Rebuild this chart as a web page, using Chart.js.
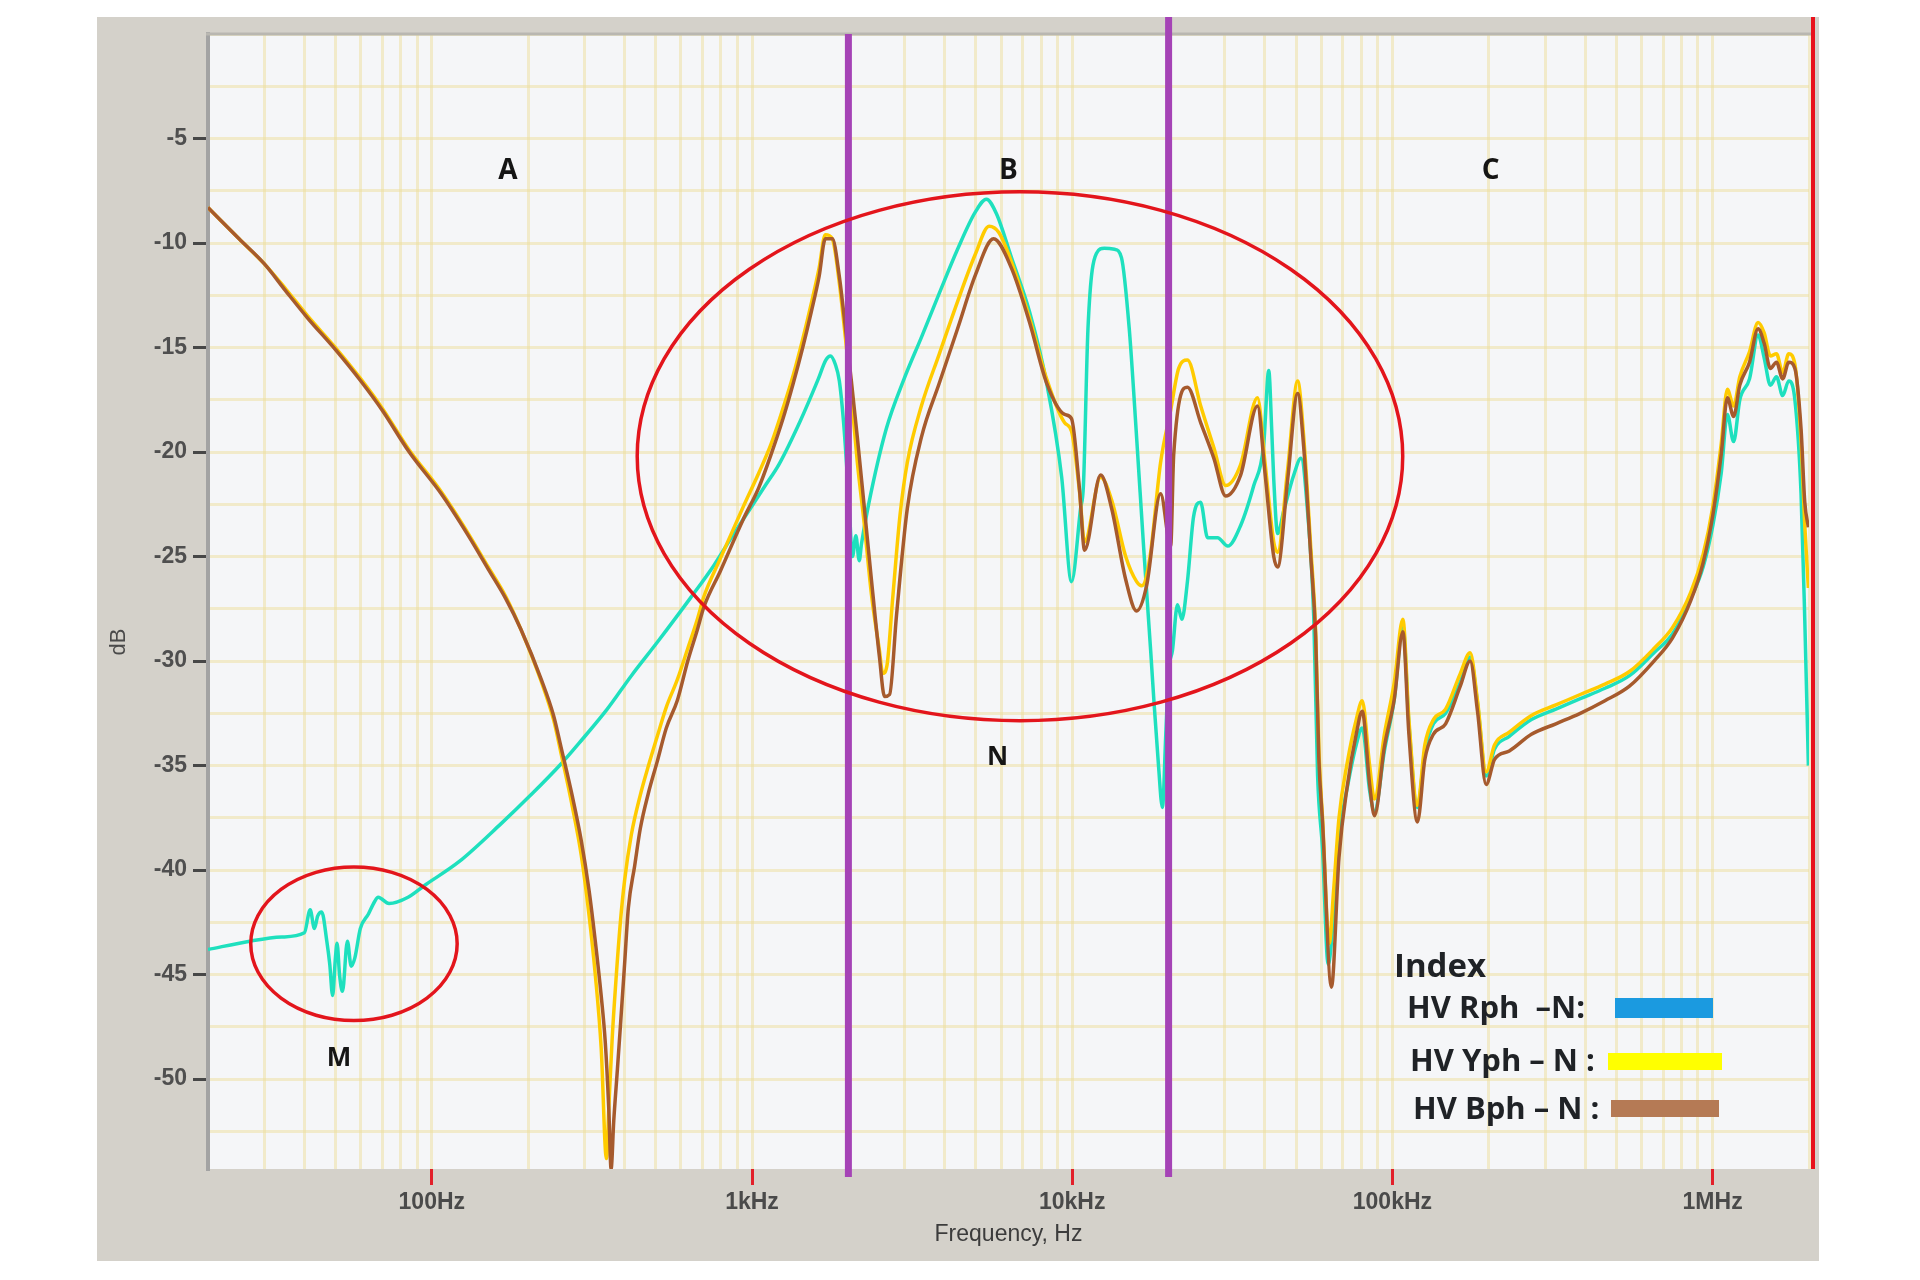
<!DOCTYPE html>
<html>
<head>
<meta charset="utf-8">
<script src="https://cdn.jsdelivr.net/npm/chart.js@4.4.1/dist/chart.umd.min.js"></script>
<style>
html,body{margin:0;padding:0;background:#ffffff;}
canvas{display:block;}
</style>
</head>
<body>
<canvas id="c" width="1920" height="1280"></canvas>
<script>
// ---------------- DATA ----------------
const seriesLabels = ['HV Rph  \u2013N:', 'HV Yph \u2013 N :', 'HV Bph \u2013 N :'];

const rphFreq = [20,27,34,40,41.7,43,44,45.3,47,48,49,50,50.6,51.5,52.6,54.5,56,57.5,59.8,63.4,66.3,68,73.5,84.3,95.6,121.6,164,204,254,293,353,420,506,641,762,870,988,1100,1213,1416,1611,1700,1758,1820,1874,1930,1972,2010,2060,2110,2162,2197,2313,2625,2985,3383,3846,4385,4990,5395,5800,6460,7360,8320,9270,9950,10620,10840,11200,11900,12590,13560,14250,15070,15890,16720,17580,17960,18600,19130,19600,20000,20560,21320,22000,22900,23930,25170,26480,28450,30600,33600,36900,39600,41100,42000,42600,43800,45800,49200,51800,54300,56800,58400,60500,63000,66000,68100,72400,77100,80500,84900,87900,94400,101400,107800,112600,119700,126300,134300,146600,162900,174900,184400,196200,208500,231800,271700,324000,386000,461000,550000,656000,749000,855000,934000,1002000,1064000,1112000,1163000,1216000,1304000,1387000,1449000,1515000,1583000,1655000,1729000,1807000,1889000,1940000,1991000];
const rphDb = [-43.8,-43.4,-43.2,-43.0,-41.9,-42.8,-42.2,-42.0,-43.4,-44.5,-46.0,-44.2,-43.5,-45.0,-45.8,-43.4,-44.6,-44.2,-42.8,-42.1,-41.5,-41.3,-41.6,-41.3,-40.7,-39.6,-37.8,-36.4,-34.9,-33.8,-32.3,-30.7,-29.1,-27.0,-25.4,-24.0,-22.7,-21.6,-20.6,-18.5,-16.5,-15.6,-15.4,-15.8,-16.6,-18.5,-20.5,-22.5,-25.0,-24.0,-25.2,-24.4,-22.5,-18.9,-16.5,-14.5,-12.4,-10.3,-8.5,-7.9,-8.6,-10.7,-13.3,-16.7,-21.2,-26.2,-22.7,-21.6,-14.1,-10.5,-10.25,-10.3,-10.7,-14.1,-19.3,-24.6,-29.5,-31.7,-35.0,-37.0,-33.5,-30.5,-29.5,-27.3,-28.0,-26.2,-23.1,-22.4,-24.1,-24.1,-24.5,-23.5,-21.6,-19.7,-16.1,-19.0,-21.3,-23.9,-22.8,-21.1,-20.3,-22.8,-27.9,-35.5,-39.0,-44.5,-41.5,-38.5,-36.0,-34.0,-33.2,-36.2,-37.2,-34.3,-31.8,-28.3,-33.0,-37.0,-34.3,-33.0,-32.5,-31.0,-29.8,-32.0,-35.5,-34.2,-33.6,-32.8,-32.3,-31.8,-31.3,-30.7,-29.6,-28.7,-27.0,-25.5,-23.5,-21.0,-18.2,-19.5,-17.5,-16.5,-14.4,-15.5,-16.8,-16.4,-17.3,-16.6,-17.5,-22.0,-28.0,-35.0];

const yphFreq = [20,25,30,35,41,50,60,70,85,107,130,150,170,190,220,240,254,275,293,310,324,338,351,358,366,375,388,400,420,448,475,506,540,584,630,675,708,796,940,1050,1148,1250,1346,1440,1531,1620,1694,1782,1870,1972,2040,2133,2244,2360,2500,2560,2640,2750,2900,3055,3380,3846,4385,4993,5500,5900,6460,7360,8320,9470,9950,10540,10930,12270,13280,14690,15890,16500,17500,18880,20300,21500,22900,25200,27700,30150,33570,37900,40000,42600,43800,47100,50600,52800,55600,57600,58900,60500,63500,65500,68100,72400,77100,80500,84900,87900,94400,101400,107800,112600,119700,126300,134300,146600,162900,174900,184400,196200,208500,231800,271700,324000,386000,461000,550000,656000,749000,855000,934000,1002000,1064000,1112000,1163000,1216000,1304000,1387000,1449000,1515000,1583000,1655000,1729000,1807000,1889000,1940000,1991000];
const yphDb = [-8.3,-9.8,-11.0,-12.2,-13.5,-15.0,-16.5,-17.9,-19.9,-21.9,-23.9,-25.5,-26.9,-28.5,-31.0,-32.8,-34.5,-37.0,-39.3,-42.2,-45.0,-48.5,-53.8,-51.0,-48.0,-45.5,-42.5,-40.5,-38.3,-36.4,-35.0,-33.6,-32.2,-30.9,-29.4,-28.0,-26.9,-25.1,-22.6,-21.0,-19.6,-17.9,-16.3,-14.6,-12.9,-11.2,-9.6,-9.8,-11.8,-15.0,-17.2,-20.5,-23.5,-26.8,-29.5,-30.6,-30.2,-27.0,-23.0,-20.5,-17.8,-15.3,-12.8,-10.5,-9.2,-9.5,-10.9,-13.6,-16.5,-18.6,-19.0,-21.9,-24.3,-21.2,-22.3,-25.0,-26.2,-26.4,-25.0,-20.5,-18.0,-16.0,-15.6,-17.8,-19.8,-21.6,-20.6,-17.4,-20.5,-24.3,-24.8,-20.8,-16.6,-19.2,-24.6,-28.6,-34.2,-37.5,-43.5,-41.0,-37.5,-34.8,-32.8,-31.9,-35.0,-36.6,-33.5,-31.0,-28.0,-32.8,-36.9,-34.0,-32.8,-32.3,-30.6,-29.6,-31.9,-35.3,-34.0,-33.4,-32.6,-32.1,-31.6,-31.1,-30.5,-29.4,-28.4,-26.7,-24.9,-22.6,-19.6,-17.0,-17.8,-16.4,-15.2,-13.8,-14.3,-15.4,-15.3,-16.2,-15.3,-15.8,-19.5,-23.5,-26.5];

const bphFreq = [20,25,30,35,41,50,60,70,85,107,130,150,170,190,220,240,254,275,293,310,324,338,348,357,363,370,380,388,400,411,430,448,475,506,540,584,630,675,708,796,940,1050,1148,1250,1346,1440,1531,1620,1694,1782,1870,1972,2040,2133,2244,2360,2500,2594,2690,2827,3055,3380,3846,4385,4993,5680,6460,7360,8320,9470,9950,10540,10930,12270,13280,14690,15890,17070,18880,20300,20750,22900,25200,27700,30150,33570,37900,40000,42600,43800,47100,50600,52800,55600,57600,58900,60500,64500,68100,72400,77100,80500,84900,87900,94400,101400,107800,112600,119700,126300,134300,146600,162900,174900,184400,196200,208500,231800,271700,324000,386000,461000,550000,656000,749000,855000,934000,1002000,1064000,1112000,1163000,1216000,1304000,1387000,1449000,1515000,1583000,1655000,1729000,1807000,1889000,1940000,1991000];
const bphDb = [-8.3,-9.8,-11.0,-12.3,-13.6,-15.1,-16.6,-18.0,-20.0,-22.0,-24.0,-25.6,-27.0,-28.5,-30.9,-32.6,-34.2,-36.5,-38.6,-41.0,-43.4,-46.0,-48.2,-51.4,-54.3,-52.0,-49.5,-47.5,-44.5,-41.8,-39.8,-38.0,-36.3,-34.8,-33.2,-31.9,-30.0,-28.5,-27.4,-25.7,-23.2,-21.7,-20.1,-18.4,-16.7,-15.0,-13.3,-11.6,-9.8,-9.8,-11.5,-14.5,-16.5,-19.3,-22.7,-26.1,-29.8,-31.7,-31.6,-27.8,-22.7,-19.3,-16.7,-14.1,-11.5,-9.8,-11.2,-13.8,-16.7,-18.2,-18.4,-21.8,-24.7,-21.1,-22.7,-26.1,-27.6,-26.4,-22.0,-24.5,-20.1,-16.9,-18.6,-20.3,-22.1,-21.1,-17.8,-21.0,-25.0,-25.5,-21.3,-17.2,-19.7,-25.0,-28.9,-34.6,-37.7,-45.6,-39.4,-35.9,-33.5,-32.4,-35.9,-37.4,-34.1,-31.8,-28.6,-33.5,-37.7,-34.7,-33.5,-33.0,-31.2,-30.0,-32.4,-35.9,-34.7,-34.3,-33.5,-33.0,-32.5,-31.9,-31.2,-30.0,-28.9,-27.1,-25.3,-23.0,-20.1,-17.4,-18.3,-16.8,-15.7,-14.1,-14.8,-16.0,-15.7,-16.5,-15.7,-16.0,-18.9,-22.4,-23.6];

// axis ticks
const xTickValues = [100, 1000, 10000, 100000, 1000000];
const xTickLabels = ['100Hz', '1kHz', '10kHz', '100kHz', '1MHz'];
const xGridMultipliers = [1,2,3,4,5,6,7,8,9];
const xGridDecades = [10, 100, 1000, 10000, 100000, 1000000];
const yTickValues = [-5,-10,-15,-20,-25,-30,-35,-40,-45,-50];
const yTickLabels = ['-5','-10','-15','-20','-25','-30','-35','-40','-45','-50'];
const yGridValues = [0,-2.5,-5,-7.5,-10,-12.5,-15,-17.5,-20,-22.5,-25,-27.5,-30,-32.5,-35,-37.5,-40,-42.5,-45,-47.5,-50,-52.5];

// annotations (data coordinates)
const markerFreqs = [2000, 20000];
const regionTexts = ['A', 'B', 'C', 'M', 'N'];
const regionFreqs = [173, 6324, 202800, 51.3, 5844];
const regionDbs = [-6.56, -6.56, -6.56, -49.0, -34.6];
const ellipseFreqRanges = [[438, 107700], [27.2, 120]];
const ellipseDbRanges = [[-7.55, -32.85], [-39.85, -47.2]];
const legendTitle = 'Index';

// ---------------- STYLE ----------------
const FONT = "'Liberation Sans', Arial, sans-serif";
const BOLD_FONT = "'Open Sans', 'Noto Sans', sans-serif";
const GRID = 'rgba(238, 222, 156, 0.5)';
const lineColors = ['#1ee0be', '#ffcb00', '#a65a2d'];
const legendColors = ['#1b9ae0', '#ffff00', '#b57a55'];

const xGridValues = [];
xGridDecades.forEach(d => xGridMultipliers.forEach(m => {
  const v = m * d;
  if (v >= 20 && v <= 2000000) xGridValues.push(v);
}));

function pts(f, d) { return f.map((v, i) => ({x: v, y: d[i]})); }

const decor = {
  id: 'decor',
  beforeDraw(chart) {
    const {ctx, chartArea: a} = chart;
    ctx.save();
    ctx.fillStyle = '#ffffff';
    ctx.fillRect(0, 0, chart.width, chart.height);
    ctx.fillStyle = '#d4d1ca';
    ctx.fillRect(97, 17, 1722, 1244);
    ctx.fillStyle = '#f5f6f8';
    ctx.fillRect(a.left, a.top, a.right - a.left + 3, a.bottom - a.top);
    ctx.restore();
  },
  afterDatasetsDraw(chart) {
    const {ctx, chartArea: a, scales: {x, y}} = chart;
    ctx.save();
    // top shadow line
    ctx.strokeStyle = '#b9b7b1';
    ctx.lineWidth = 3;
    ctx.beginPath(); ctx.moveTo(a.left - 2, a.top); ctx.lineTo(a.right + 3, a.top); ctx.stroke();
    // purple markers
    ctx.strokeStyle = '#a543b6';
    ctx.lineWidth = 7;
    markerFreqs.forEach((f, i) => {
      const px = x.getPixelForValue(f);
      ctx.beginPath(); ctx.moveTo(px, i === 0 ? a.top : 17); ctx.lineTo(px, a.bottom + 8); ctx.stroke();
    });
    // red right marker
    ctx.strokeStyle = '#e8121c';
    ctx.lineWidth = 4;
    ctx.beginPath(); ctx.moveTo(a.right + 4, 17); ctx.lineTo(a.right + 4, a.bottom); ctx.stroke();
    // ellipses
    ctx.strokeStyle = '#e3151c';
    ctx.lineWidth = 3.5;
    ellipseFreqRanges.forEach((fr, i) => {
      const x1 = x.getPixelForValue(fr[0]), x2 = x.getPixelForValue(fr[1]);
      const y1 = y.getPixelForValue(ellipseDbRanges[i][0]), y2 = y.getPixelForValue(ellipseDbRanges[i][1]);
      ctx.beginPath();
      ctx.ellipse((x1 + x2) / 2, (y1 + y2) / 2, Math.abs(x2 - x1) / 2, Math.abs(y2 - y1) / 2, 0, 0, Math.PI * 2);
      ctx.stroke();
    });
    // region labels
    ctx.fillStyle = '#151515';
    ctx.textAlign = 'center';
    ctx.textBaseline = 'middle';
    regionTexts.forEach((t, i) => {
      ctx.font = (i < 3 ? '700 28px ' : '700 26px ') + BOLD_FONT;
      ctx.fillText(t, x.getPixelForValue(regionFreqs[i]), y.getPixelForValue(regionDbs[i]));
    });
    // legend
    ctx.textAlign = 'left';
    ctx.fillStyle = '#1f2226';
    ctx.font = '700 33px ' + BOLD_FONT;
    ctx.fillText(legendTitle, 1394, 968);
    const lx = [1407, 1410, 1413];
    const ly = [1009, 1062, 1110];
    const bars = [[1615, 998, 98, 20], [1608, 1053, 114, 17], [1611, 1100, 108, 17]];
    ctx.font = '700 31px ' + BOLD_FONT;
    chart.data.datasets.forEach((ds, i) => {
      ctx.fillStyle = '#1f2226';
      ctx.fillText(ds.label, lx[i], ly[i]);
      ctx.fillStyle = legendColors[i];
      ctx.fillRect(bars[i][0], bars[i][1], bars[i][2], bars[i][3]);
    });
    // y-axis title
    ctx.save();
    ctx.translate(119, 642);
    ctx.rotate(-Math.PI / 2);
    ctx.fillStyle = '#4a4a4a';
    ctx.font = '22px ' + FONT;
    ctx.textAlign = 'center';
    ctx.fillText('dB', 0, 0);
    ctx.restore();
    ctx.restore();
  }
};

new Chart(document.getElementById('c'), {
  type: 'line',
  data: {
    datasets: [
      {label: seriesLabels[0], data: pts(rphFreq, rphDb), borderColor: lineColors[0], order: 3},
      {label: seriesLabels[1], data: pts(yphFreq, yphDb), borderColor: lineColors[1], order: 2},
      {label: seriesLabels[2], data: pts(bphFreq, bphDb), borderColor: lineColors[2], order: 1}
    ]
  },
  options: {
    responsive: false,
    animation: false,
    devicePixelRatio: 1,
    datasets: {line: {borderWidth: 3.5, pointRadius: 0, cubicInterpolationMode: 'monotone', borderJoinStyle: 'round', fill: false}},
    layout: {padding: {left: 0, top: 34, right: 111, bottom: 0}},
    plugins: {legend: {display: false}, tooltip: {enabled: false}},
    scales: {
      x: {
        type: 'logarithmic', min: 20, max: 2000000,
        afterBuildTicks: s => { s.ticks = xGridValues.map(v => ({value: v})); },
        afterFit: s => { s.height = 111; },
        ticks: {
          autoSkip: false, maxRotation: 0, minRotation: 0, padding: 4,
          color: '#4a4a4a', font: {family: FONT, size: 23, weight: 'bold'},
          callback: v => { const k = xTickValues.indexOf(v); return k >= 0 ? xTickLabels[k] : ''; }
        },
        grid: {
          color: GRID, lineWidth: 3, drawTicks: true, tickLength: 16, tickWidth: 3,
          tickColor: c => (c.tick && xTickValues.indexOf(c.tick.value) >= 0) ? '#e2202a' : 'rgba(0,0,0,0)'
        },
        border: {display: false},
        title: {display: true, text: 'Frequency, Hz', color: '#3c3c3c', font: {family: FONT, size: 23}, padding: {top: 0, bottom: 32}}
      },
      y: {
        type: 'linear', min: -54.3, max: 0,
        afterBuildTicks: s => { s.ticks = yGridValues.map(v => ({value: v})); },
        afterFit: s => { s.width = 208; },
        ticks: {
          autoSkip: false, padding: 6,
          color: '#4f4f4f', font: {family: FONT, size: 23, weight: 'bold'},
          callback: v => { const k = yTickValues.indexOf(v); return k >= 0 ? yTickLabels[k] : ''; }
        },
        grid: {
          color: GRID, lineWidth: 3, drawTicks: true, tickLength: 15, tickWidth: 3,
          tickColor: c => (c.tick && yTickValues.indexOf(c.tick.value) >= 0) ? '#474747' : 'rgba(0,0,0,0)'
        },
        border: {display: true, color: '#a3a3a3', width: 4}
      }
    }
  },
  plugins: [decor]
});
</script>
</body>
</html>
